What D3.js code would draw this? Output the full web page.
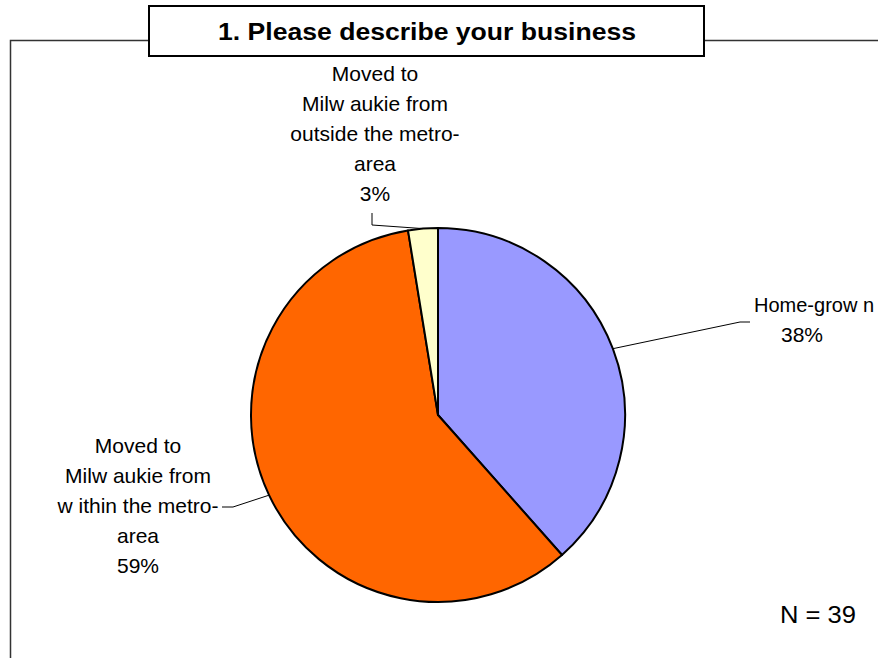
<!DOCTYPE html>
<html>
<head>
<meta charset="utf-8">
<script src="https://cdn.jsdelivr.net/npm/d3@7"></script>
<style>
  html, body { margin: 0; padding: 0; background: #fff; }
  svg { display: block; font-family: Arial, "Liberation Sans", sans-serif; }
</style>
</head>
<body>
<svg id="chart" width="878" height="658"></svg>
<script>
// Survey responses: where the business comes from
const categories = [
  ["Home-grow n"],
  ["Moved to", "Milw aukie from", "w ithin the metro-", "area"],
  ["Moved to", "Milw aukie from", "outside the metro-", "area"]
];
const counts = [15, 23, 1];
const colors = ["#9999FF", "#FF6600", "#FFFFCC"];
const title = "1. Please describe your business";
const total = d3.sum(counts);

const svg = d3.select("#chart");
const cx = 438, cy = 415, r = 187;

// Frame around the plot area
const frame = svg.append("g").attr("fill", "none").attr("stroke", "#333").attr("stroke-width", 1.5);
frame.append("path").attr("d", "M10.5,658 V40.5 H149");
frame.append("path").attr("d", "M704,40.5 H878");

// Title box
svg.append("rect")
  .attr("x", 149).attr("y", 6).attr("width", 555).attr("height", 50)
  .attr("fill", "#fff").attr("stroke", "#000").attr("stroke-width", 2);
svg.append("text")
  .attr("x", 427).attr("y", 40)
  .attr("text-anchor", "middle")
  .attr("font-weight", "bold").attr("font-size", 23)
  .attr("textLength", 418).attr("lengthAdjust", "spacingAndGlyphs")
  .text(title);

// Pie
const pie = d3.pie().sort(null).value(d => d);
const arcs = pie(counts);
const arc = d3.arc().innerRadius(0).outerRadius(r);

const g = svg.append("g").attr("transform", `translate(${cx},${cy})`);
g.selectAll("path.slice")
  .data(arcs)
  .join("path")
  .attr("class", "slice")
  .attr("d", arc)
  .attr("fill", (d, i) => colors[i])
  .attr("stroke", "#000")
  .attr("stroke-width", 2)
  .attr("stroke-linejoin", "round");

// Point on the rim at the middle of a slice
function rimPoint(d) {
  const a = (d.startAngle + d.endAngle) / 2;
  return [cx + r * Math.sin(a), cy - r * Math.cos(a)];
}

// Label placement: leader elbow points and text block anchor
const labelLayout = [
  { path: [[740, 322], [750, 322]], x: 802, y: 312, firstX: 754, firstAnchor: "start", firstSize: 20 },
  { path: [[233, 507], [222, 507]], x: 138, y: 453 },
  { path: [[372, 225], [372, 213]], x: 375, y: 81 }
];
const lineStep = 30;

const line = d3.line();
arcs.forEach((d, i) => {
  const L = labelLayout[i];
  svg.append("path")
    .attr("d", line([rimPoint(d), ...L.path]))
    .attr("fill", "none").attr("stroke", "#000").attr("stroke-width", 1);

  const pct = Math.round(d.value / total * 100) + "%";
  const lines = categories[i].concat([pct]);
  const t = svg.append("text")
    .attr("text-anchor", "middle")
    .attr("font-size", 21)
    .attr("fill", "#000");
  lines.forEach((s, k) => {
    const ts = t.append("tspan").attr("x", L.x).attr("y", L.y + k * lineStep).text(s);
    if (k === 0 && L.firstAnchor) {
      ts.attr("x", L.firstX).attr("text-anchor", L.firstAnchor).attr("font-size", L.firstSize);
    }
  });
});

// Sample size
svg.append("text")
  .attr("x", 780).attr("y", 623)
  .attr("font-size", 24)
  .attr("textLength", 76).attr("lengthAdjust", "spacingAndGlyphs")
  .text("N = " + total);
</script>
</body>
</html>
